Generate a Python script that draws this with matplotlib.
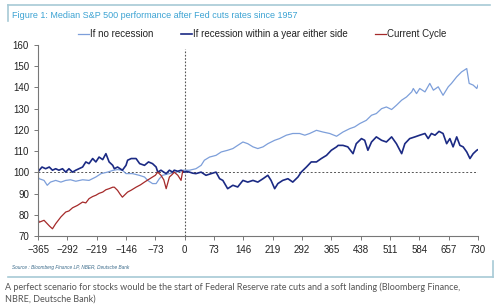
import matplotlib
matplotlib.use("Agg")
import matplotlib.pyplot as plt
from matplotlib.lines import Line2D

# ---------------- data ----------------
x_ticks = [-365, -292, -219, -146, -73, 0, 73, 146, 219, 292, 365, 438, 511, 584, 657, 730]
y_ticks = [70, 80, 90, 100, 110, 120, 130, 140, 150, 160]

nr_days = [-365, -362, -350, -342, -334, -321, -308, -296, -284, -271, -254, -238, -221, -208, -192,
           -179, -167, -155, -146, -130, -113, -100, -92, -80, -71, -63, -55, -38, -21, -5,
           12, 28, 41, 49, 62, 78, 91, 107, 120, 132, 145, 157, 170, 182, 195, 207, 224, 236,
           253, 269, 286, 299, 311, 328, 344, 361, 378, 394, 411, 423, 436, 452, 465, 477, 490,
           502, 515, 527, 540, 552, 565, 569, 577, 585, 598, 610, 619, 631, 643, 656, 664, 677,
           689, 702, 708, 718, 727, 730]
nr_vals = [97.8, 97.0, 96.2, 93.9, 95.4, 96.2, 95.4, 96.2, 96.5, 95.8, 96.5, 96.2, 97.8, 99.4, 100.1,
           100.9, 101.3, 101.0, 99.4, 99.4, 98.6, 97.8, 96.2, 94.7, 94.7, 97.0, 98.6, 99.4, 100.1, 101.0,
           101.0, 101.7, 103.3, 105.7, 107.2, 108.0, 109.6, 110.4, 111.2, 112.7, 114.3, 113.5, 112.0,
           111.2, 112.0, 113.5, 115.1, 115.9, 117.5, 118.3, 118.3, 117.5, 118.3, 119.8, 119.0, 118.3,
           117.0, 119.0, 120.6, 121.4, 123.0, 124.5, 126.9, 127.7, 130.0, 130.8, 129.6, 131.6, 134.0,
           135.5, 137.9, 139.5, 137.1, 139.5, 137.9, 141.9, 138.7, 140.3, 136.3, 140.3, 141.9, 145.0,
           147.3, 148.9, 141.9, 141.1, 139.5, 141.1]

rc_days = [-365, -362, -355, -346, -337, -329, -321, -313, -304, -296, -288, -279, -271, -263, -254,
           -246, -238, -229, -221, -213, -204, -196, -188, -179, -175, -167, -155, -146, -142, -133,
           -121, -112, -100, -90, -80, -71, -67, -59, -52, -46, -38, -30, -26, -17, -9, -5, -1, 5,
           12, 20, 28, 41, 53, 66, 78, 87, 95, 107, 120, 132, 145, 157, 170, 182, 195, 207, 215,
           224, 232, 244, 257, 269, 282, 290, 303, 315, 328, 340, 353, 365, 378, 382, 394, 406,
           419, 427, 440, 448, 456, 465, 477, 490, 502, 515, 527, 540, 548, 560, 573, 585, 598,
           606, 614, 623, 633, 643, 652, 660, 668, 677, 685, 693, 702, 710, 718, 727, 730]
rc_vals = [100.1, 101.0, 102.5, 101.7, 102.5, 101.0, 101.7, 101.0, 101.7, 100.1, 101.7, 100.1, 101.0,
           101.7, 102.5, 104.9, 104.1, 106.5, 104.9, 107.2, 106.0, 108.8, 104.9, 103.3, 101.7, 102.5,
           101.0, 103.3, 105.7, 106.5, 106.5, 104.1, 103.3, 104.9, 104.1, 102.5, 100.1, 101.0, 100.1,
           99.4, 101.0, 100.1, 101.0, 100.5, 101.0, 100.6, 100.1, 100.4, 100.1, 99.6, 99.4, 100.1, 98.6,
           99.4, 100.1, 97.0, 96.2, 92.3, 93.9, 93.1, 96.2, 95.4, 96.2, 95.4, 97.0, 98.6, 96.2, 92.3,
           94.7, 96.2, 97.0, 95.4, 97.8, 100.1, 102.5, 104.9, 104.9, 106.5, 108.0, 110.4, 112.0, 112.7,
           112.7, 112.0, 108.8, 113.5, 115.9, 115.1, 110.4, 114.3, 116.7, 115.1, 114.3, 116.7, 113.5,
           108.8, 113.5, 115.9, 116.7, 117.5, 118.3, 115.9, 118.3, 117.5, 119.3, 118.3, 113.5, 115.9,
           112.0, 116.7, 112.7, 112.0, 109.6, 106.5, 108.8, 110.4, 110.7]

cc_days = [-365, -362, -350, -342, -336, -329, -321, -308, -296, -288, -279, -267, -254, -246, -238,
           -229, -221, -213, -204, -196, -188, -179, -175, -167, -161, -155, -148, -142, -133, -121,
           -110, -100, -90, -80, -73, -67, -59, -52, -46, -38, -31, -26, -17, -9, -5]
cc_vals = [78.0, 76.5, 77.4, 75.8, 74.6, 73.4, 75.8, 79.0, 81.3, 81.8, 83.3, 84.4, 86.0, 85.6, 87.6,
           88.6, 89.2, 90.1, 90.7, 91.8, 92.3, 93.0, 93.0, 91.5, 89.8, 88.3, 89.6, 90.7, 91.6, 93.0,
           94.1, 95.4, 96.6, 97.8, 98.6, 100.1, 98.6, 96.5, 92.3, 97.8, 99.0, 100.1, 98.6, 96.2, 100.5]

labels = ["If no recession", "If recession within a year either side", "Current Cycle"]
colors = ["#7d9fda", "#1b2a84", "#a52a2a"]

# ---------------- figure ----------------
fig = plt.figure(figsize=(5.0, 3.05), dpi=100)
fig.patch.set_facecolor("white")
ax = fig.add_axes([0.076, 0.2262, 0.88, 0.6263])

ax.plot(nr_days, nr_vals, color=colors[0], lw=0.9, label=labels[0])
ax.plot(rc_days, rc_vals, color=colors[1], lw=1.2, label=labels[1])
ax.plot(cc_days, cc_vals, color=colors[2], lw=0.9, label=labels[2])

ax.axhline(100, color="#555555", lw=0.7, ls=(0, (2, 2)), zorder=0)
ax.plot([0, 0], [70, 158], color="#555555", lw=0.8, ls=(0, (1.5, 1.5)), zorder=0)

ax.set_xlim(-365, 730)
ax.set_ylim(70, 160)
ax.set_xticks(x_ticks)
ax.set_yticks(y_ticks)
for s in ["top", "right"]:
    ax.spines[s].set_visible(False)
for s in ["left", "bottom"]:
    ax.spines[s].set_color("#777777")
    ax.spines[s].set_linewidth(0.8)
ax.tick_params(axis="both", colors="#777777", labelcolor="#222222", labelsize=7,
               length=3, width=0.7, direction="out")
for t in ax.get_xticklabels() + ax.get_yticklabels():
    t.set_fontfamily("Liberation Sans")

leg = ax.legend(loc="lower center", bbox_to_anchor=(0.51, 1.0), ncol=3, frameon=False,
                handlelength=1.1, handletextpad=0.15, columnspacing=2.8,
                prop={"family": "Liberation Sans", "size": 7}, borderaxespad=0.2)
for t in leg.get_texts():
    t.set_color("#222222")

# frame lines and texts
frame_col = "#a7cad6"
fig.add_artist(Line2D([8/500, 490/500], [1-5/305, 1-5/305], color=frame_col, lw=1.2))
fig.add_artist(Line2D([8/500, 8/500], [1-5/305, 1-21/305], color=frame_col, lw=1.2))
fig.add_artist(Line2D([8/500, 493/500], [1-277/305, 1-277/305], color=frame_col, lw=1.2))
fig.add_artist(Line2D([493/500, 493/500], [1-277/305, 1-261/305], color=frame_col, lw=1.2))

fig.text(12/500, 1-15/305, "Figure 1: Median S&P 500 performance after Fed cuts rates since 1957",
         color="#3ca3d3", fontsize=6.5, family="Liberation Sans", va="center", ha="left")
fig.text(12/500, 1-268/305, "Source : Bloomberg Finance LP, NBER, Deutsche Bank",
         color="#3a6a8a", fontsize=3.4, family="Liberation Sans", style="italic",
         va="center", ha="left")
fig.text(5/500, 1-287/305,
         "A perfect scenario for stocks would be the start of Federal Reserve rate cuts and a soft landing (Bloomberg Finance,",
         color="#555555", fontsize=6.5, family="Lato", va="center", ha="left")
fig.text(5/500, 1-299/305, "NBRE, Deutsche Bank)",
         color="#555555", fontsize=6.5, family="Lato", va="center", ha="left")

fig.savefig("out.png", dpi=100, facecolor="white")
